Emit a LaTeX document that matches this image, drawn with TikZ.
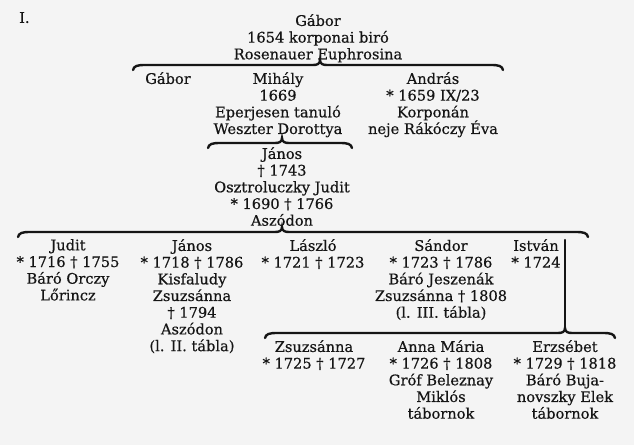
\documentclass[tikz,border=0pt]{standalone}
\usepackage{fontspec}
\setmainfont{DejaVu Serif}
\newfontfamily\tablefont{DejaVu Serif}[FakeBold=0.5]
\usetikzlibrary{positioning}

\definecolor{paper}{HTML}{F4F4F4}
\definecolor{ink}{HTML}{151515}

\tikzset{
  person/.style={anchor=north, align=center, inner sep=0pt, text=ink,
    font=\tablefont\fontsize{14.6}{16.7}\selectfont},
  famline/.style={draw=ink, line width=2.4pt, line cap=round}
}

% family line: name, left end, tip, right end, height
\newcommand{\famlink}[5]{%
  \draw[famline] (#2,#5+5) .. controls (#2+1,#5+1) and (#2+4,#5) .. (#2+12,#5)
    -- (#3-7,#5) .. controls (#3-3,#5) and (#3,#5-1) .. (#3,#5-5)
    .. controls (#3,#5-1) and (#3+3,#5) .. (#3+7,#5)
    -- (#4-12,#5) .. controls (#4-4,#5) and (#4-1,#5+1) .. (#4,#5+5);
  \coordinate (#1) at (#3,#5-5);}

\begin{document}
\begin{tikzpicture}[x=1pt,y=-1pt]
\fill[paper] (0,0) rectangle (634,445);
\useasboundingbox (0,0) rectangle (634,445);

\node[person, anchor=north west] (tabla) at (19,12) {I.};

% first generation
\node[person] (gabor) at (318,14) {Gábor\\1654 korponai biró\\Rosenauer Euphrosina};
\famlink{f1}{133}{320}{503}{65}

% children of Gábor
\node[person] (gabor2) at (168,72) {Gábor};
\node[person] (mihaly) at (278,72) {Mihály\\1669\\Eperjesen tanuló\\Weszter Dorottya};
\node[person] (andras) at (433,72) {András\\* 1659 IX/23\\Korponán\\neje Rákóczy Éva};
\famlink{f2}{208}{282}{352}{143}

% János
\node[person] (janos) at (282,147) {János\\† 1743\\Osztroluczky Judit\\* 1690 † 1766\\Aszódon};
\famlink{f3}{18}{282}{588}{232}

% children of János
\node[person] (judit) at (68,239) {Judit\\* 1716 † 1755\\Báró Orczy\\Lőrincz};
\node[person] (janos2) at (192,239) {János\\* 1718 † 1786\\Kisfaludy\\Zsuzsánna\\† 1794\\Aszódon\\(l. II. tábla)};
\node[person] (laszlo) at (313,239) {László\\* 1721 † 1723};
\node[person] (sandor) at (441,239) {Sándor\\* 1723 † 1786\\Báró Jeszenák\\Zsuzsánna † 1808\\(l. III. tábla)};
\node[person] (istvan) at (536,239) {István\\* 1724};
\famlink{f4}{265}{565}{615}{333}
\coordinate (istvanline) at (565,240);
\draw[famline] (istvanline) -- (f4);

\node[person] (zsuzsanna) at (314,340) {Zsuzsánna\\* 1725 † 1727};
\node[person] (annamaria) at (441,340) {Anna Mária\\* 1726 † 1808\\Gróf Beleznay\\Miklós\\tábornok};
\node[person] (erzsebet) at (565,340) {Erzsébet\\* 1729 † 1818\\Báró Buja-\\novszky Elek\\tábornok};
\end{tikzpicture}
\end{document}
